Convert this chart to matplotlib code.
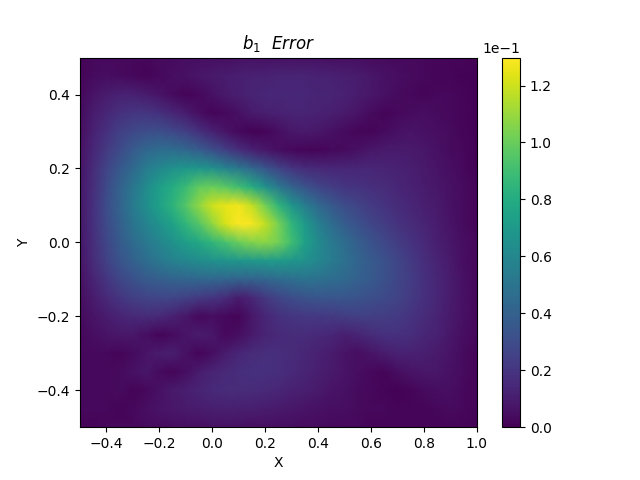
#!/usr/bin/env python3
import numpy as np
import matplotlib
matplotlib.use("Agg")
import matplotlib.pyplot as plt

# error values, in units of 1e-1
x_vals = [-0.5, -0.45, -0.4, -0.35, -0.3, -0.25, -0.2, -0.15, -0.1, -0.05, 0.0,
          0.05, 0.1, 0.15, 0.2, 0.25, 0.3, 0.35, 0.4, 0.45, 0.5,
          0.55, 0.6, 0.65, 0.7, 0.75, 0.8, 0.85, 0.9, 0.95, 1.0]
y_vals = [0.5, 0.45, 0.4, 0.35, 0.3, 0.25, 0.2, 0.15, 0.1, 0.05, 0.0,
          -0.05, -0.1, -0.15, -0.2, -0.25, -0.3, -0.35, -0.4, -0.45, -0.5]
error = [
    [.02, .03, .03, .03, .03, .03, .04, .04, .05, .05, .05, .05, .06, .06, .06, .06, .06, .06, .06, .05, .05, .05, .04, .04, .03, .03, .03, .02, .02, .02, .01],
    [.02, .04, .05, .04, .03, .02, .03, .05, .06, .08, .09, .10, .11, .12, .12, .13, .13, .13, .12, .12, .11, .10, .08, .06, .05, .04, .03, .02, .02, .01, .01],
    [.03, .07, .10, .12, .12, .10, .07, .04, .02, .03, .06, .09, .11, .13, .14, .14, .14, .14, .13, .13, .12, .10, .08, .06, .04, .03, .02, .03, .03, .02, .01],
    [.04, .10, .14, .18, .20, .20, .18, .14, .10, .05, .02, .03, .06, .09, .11, .12, .13, .13, .12, .11, .09, .07, .04, .02, .03, .04, .05, .04, .03, .02, .01],
    [.05, .12, .18, .24, .28, .30, .31, .28, .24, .18, .12, .07, .03, .01, .02, .05, .08, .09, .08, .06, .04, .02, .02, .04, .06, .07, .06, .05, .04, .02, .01],
    [.06, .14, .22, .29, .37, .43, .46, .46, .43, .38, .31, .24, .17, .12, .08, .05, .03, .02, .02, .03, .04, .06, .08, .09, .09, .09, .08, .06, .04, .03, .01],
    [.07, .16, .26, .35, .44, .54, .60, .65, .68, .68, .65, .58, .52, .43, .34, .26, .20, .16, .15, .14, .14, .14, .14, .13, .12, .11, .09, .07, .05, .03, .01],
    [.08, .17, .29, .40, .51, .62, .72, .80, .88, .98, 1.00, .96, .90, .80, .66, .52, .41, .33, .27, .23, .20, .19, .17, .16, .14, .12, .10, .08, .06, .04, .02],
    [.08, .18, .30, .41, .53, .64, .74, .84, .95, 1.08, 1.20, 1.25, 1.27, 1.18, 1.02, .85, .68, .55, .44, .36, .30, .26, .22, .19, .16, .14, .11, .09, .06, .04, .02],
    [.08, .18, .29, .39, .50, .58, .66, .75, .85, .95, 1.08, 1.22, 1.29, 1.28, 1.18, 1.03, .85, .70, .56, .46, .38, .32, .27, .23, .19, .16, .13, .10, .07, .04, .02],
    [.08, .17, .27, .36, .45, .52, .59, .65, .72, .78, .85, .92, 1.00, 1.05, 1.07, 1.02, .90, .74, .62, .53, .46, .39, .33, .28, .23, .19, .15, .11, .08, .05, .03],
    [.07, .16, .25, .33, .40, .46, .52, .57, .60, .63, .65, .67, .68, .69, .70, .70, .68, .65, .60, .54, .48, .42, .37, .32, .27, .22, .17, .13, .09, .05, .03],
    [.06, .13, .20, .27, .32, .36, .39, .41, .42, .43, .43, .42, .41, .41, .42, .45, .47, .49, .48, .46, .44, .40, .36, .32, .27, .23, .18, .14, .10, .06, .03],
    [.05, .10, .15, .20, .24, .26, .27, .27, .25, .22, .20, .16, .10, .14, .21, .26, .30, .33, .34, .34, .34, .33, .31, .29, .26, .22, .18, .14, .10, .06, .03],
    [.04, .07, .10, .13, .15, .16, .15, .12, .08, .03, .05, .03, .02, .08, .14, .18, .20, .21, .21, .22, .23, .24, .24, .23, .22, .19, .16, .13, .09, .06, .03],
    [.03, .05, .07, .08, .08, .05, .02, .04, .07, .10, .08, .03, .05, .09, .13, .15, .16, .16, .15, .14, .11, .13, .16, .18, .18, .17, .14, .12, .08, .05, .03],
    [.03, .03, .03, .02, .04, .07, .10, .11, .06, .02, .05, .10, .14, .16, .17, .17, .16, .14, .12, .10, .07, .05, .07, .10, .12, .12, .11, .09, .07, .04, .02],
    [.03, .03, .03, .04, .06, .08, .04, .02, .05, .10, .13, .15, .17, .18, .18, .17, .15, .13, .11, .09, .07, .05, .03, .02, .05, .07, .08, .08, .06, .04, .02],
    [.03, .03, .03, .04, .02, .03, .06, .09, .11, .13, .15, .16, .16, .16, .15, .14, .12, .11, .09, .07, .06, .04, .03, .02, .01, .02, .04, .05, .05, .03, .02],
    [.03, .03, .03, .02, .03, .05, .07, .08, .09, .10, .11, .11, .11, .11, .10, .09, .08, .07, .06, .05, .05, .04, .03, .03, .02, .02, .02, .03, .04, .03, .02],
    [.02, .02, .03, .03, .03, .04, .04, .05, .05, .05, .06, .06, .06, .05, .05, .05, .05, .04, .04, .03, .03, .03, .02, .02, .02, .02, .02, .02, .02, .02, .01],
]
scale = 0.1
err_max = 0.1298

fig, ax = plt.subplots(figsize=(6.4, 4.8), dpi=100)
mesh = ax.pcolormesh(x_vals, y_vals, np.array(error) * scale, shading="gouraud",
                     cmap="viridis", vmin=0.0, vmax=err_max)
ax.set_xlim(-0.5, 1.0)
ax.set_ylim(-0.5, 0.5)
ax.set_xlabel("X")
ax.set_ylabel("Y")
ax.set_title(r"$b_1$  $Error$")

cbar = fig.colorbar(mesh, ax=ax)
cbar.formatter.set_powerlimits((0, 0))
cbar.update_ticks()

fig.savefig("out.png", dpi=100)
